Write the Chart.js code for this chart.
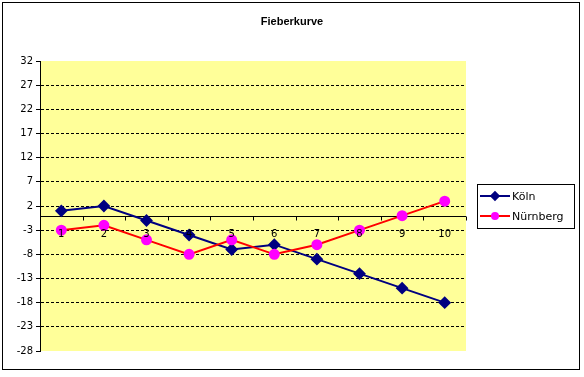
<!DOCTYPE html>
<html>
<head>
<meta charset="utf-8">
<script src="https://cdn.jsdelivr.net/npm/chart.js@4/dist/chart.umd.min.js"></script>
<style>
  body { margin: 0; background: #fff; }
  canvas { display: block; }
</style>
</head>
<body>
<canvas id="fever-chart" width="584" height="377"></canvas>
<script>
// Values
const days = ['1', '2', '3', '4', '5', '6', '7', '8', '9', '10'];
const koelnValues = [1, 2, -1, -4, -7, -6, -9, -12, -15, -18];
const nuernbergValues = [-3, -2, -5, -8, -5, -8, -6, -3, 0, 3];
const seriesNames = ['Köln', 'Nürnberg'];
const chartTitle = 'Fieberkurve';

const Y_MIN = -28;
const Y_MAX = 32;
const Y_STEP = 5;

const tickFont = { family: 'DejaVu Sans', size: 10 };

// Yellow plot area, drawn before everything else
const plotBackground = {
    id: 'plotBackground',
    beforeDraw(chart) {
        const { ctx, chartArea: a } = chart;
        ctx.save();
        ctx.fillStyle = '#fff';
        ctx.fillRect(0, 0, chart.width, chart.height);
        ctx.fillStyle = '#FFFF99';
        ctx.fillRect(a.left, a.top, a.right - a.left, a.bottom - a.top);
        ctx.restore();
    }
};

// Category axis crossing at 0: solid line plus small tick marks between the days
const zeroAxis = {
    id: 'zeroAxis',
    beforeDatasetsDraw(chart) {
        const { ctx, chartArea: a, scales } = chart;
        const xs = scales.x;
        const y0 = Math.round(scales.y.getPixelForValue(0)) + 0.5;
        ctx.save();
        ctx.setLineDash([]);
        ctx.strokeStyle = '#000';
        ctx.lineWidth = 1;
        ctx.beginPath();
        ctx.moveTo(a.left, y0);
        ctx.lineTo(a.right, y0);
        const n = days.length;
        for (let i = 0; i <= n; i++) {
            let px;
            if (i === 0) px = a.left;
            else if (i === n) px = a.right;
            else px = (xs.getPixelForValue(i - 1) + xs.getPixelForValue(i)) / 2;
            px = Math.round(px) + 0.5;
            ctx.moveTo(px, y0);
            ctx.lineTo(px, y0 + 4);
        }
        ctx.stroke();
        ctx.restore();
    }
};

// Outer frame, title and the boxed legend on the right
const frameTitleLegend = {
    id: 'frameTitleLegend',
    afterDraw(chart) {
        const ctx = chart.ctx;
        ctx.save();
        ctx.strokeStyle = '#000';
        ctx.lineWidth = 1;
        ctx.strokeRect(2.5, 2.5, 577, 367);

        ctx.fillStyle = '#000';
        ctx.font = 'bold 11px "Liberation Sans"';
        ctx.textAlign = 'center';
        ctx.textBaseline = 'middle';
        ctx.fillText(chartTitle, 292, 22);

        ctx.strokeRect(477.5, 184.5, 97, 44);
        ctx.font = '11px "DejaVu Sans"';
        ctx.textAlign = 'left';
        chart.data.datasets.forEach((ds, i) => {
            const y = 196 + i * 20;
            ctx.strokeStyle = ds.borderColor;
            ctx.lineWidth = 2;
            ctx.beginPath();
            ctx.moveTo(480, y);
            ctx.lineTo(510, y);
            ctx.stroke();
            ctx.fillStyle = ds.pointBackgroundColor;
            ctx.strokeStyle = ds.pointBorderColor;
            Chart.helpers.drawPoint(ctx, {
                pointStyle: ds.pointStyle,
                radius: ds.pointStyle === 'circle' ? 3 : 3.8,
                rotation: 0,
                borderWidth: 1
            }, 495, y);
            ctx.fillStyle = '#000';
            ctx.fillText(ds.label, 512, y + 1);
        });
        ctx.restore();
    }
};

const feverChart = new Chart(document.getElementById('fever-chart'), {
    type: 'line',
    data: {
        labels: days,
        datasets: [
            {
                label: seriesNames[0],
                data: koelnValues,
                borderColor: '#000080',
                borderWidth: 2,
                pointStyle: 'rectRot',
                pointRadius: 5,
                pointBackgroundColor: '#000080',
                pointBorderColor: '#000080',
                tension: 0,
                order: 1
            },
            {
                label: seriesNames[1],
                data: nuernbergValues,
                borderColor: '#FF0000',
                borderWidth: 2,
                pointStyle: 'circle',
                pointRadius: 4.5,
                pointBackgroundColor: '#FF00FF',
                pointBorderColor: '#FF00FF',
                tension: 0,
                order: 0
            }
        ]
    },
    options: {
        responsive: false,
        animation: false,
        layout: {
            padding: { left: 0, right: 118, top: 61, bottom: 26 }
        },
        plugins: {
            legend: { display: false },
            title: { display: false },
            tooltip: { enabled: false }
        },
        scales: {
            x: {
                position: { y: 0 },
                offset: true,
                ticks: { color: '#000', font: tickFont, padding: 5, maxRotation: 0, z: 1 },
                grid: { display: false },
                border: { display: false }
            },
            y: {
                min: Y_MIN,
                max: Y_MAX,
                afterFit(scale) { scale.width = 40; },
                ticks: { stepSize: Y_STEP, color: '#000', font: tickFont, padding: 3 },
                grid: {
                    color: (c) => (c.tick && (c.tick.value === Y_MIN || c.tick.value === Y_MAX)) ? 'rgba(0,0,0,0)' : '#000',
                    tickColor: '#000',
                    tickLength: 4,
                    lineWidth: 1
                },
                border: { display: true, color: '#000', width: 1, dash: [3, 2] }
            }
        }
    },
    plugins: [plotBackground, zeroAxis, frameTitleLegend]
});
</script>
</body>
</html>
